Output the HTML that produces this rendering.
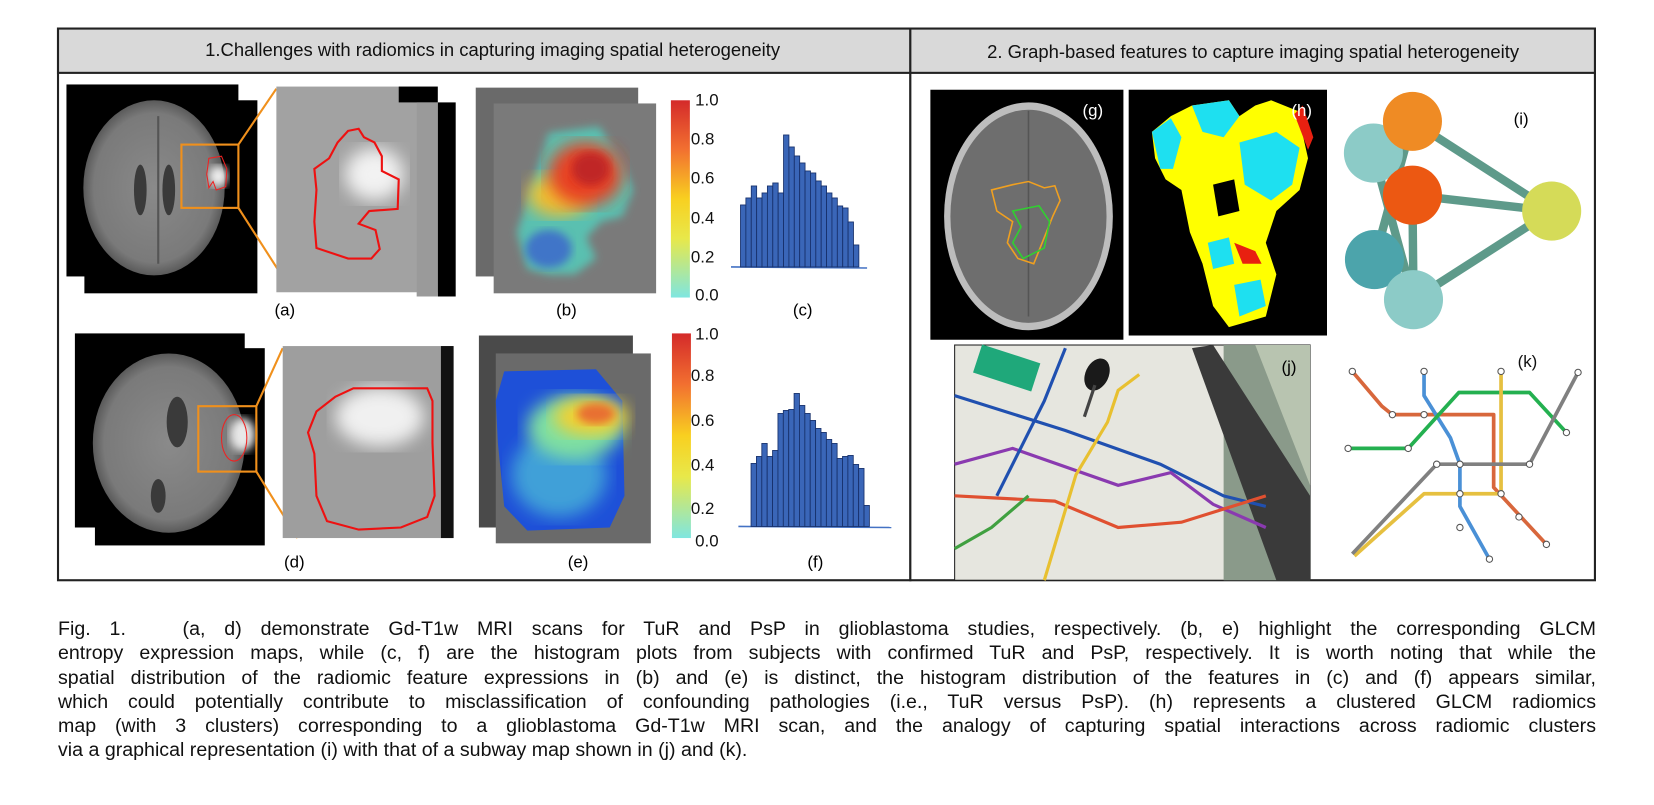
<!DOCTYPE html>
<html><head><meta charset="utf-8">
<style>
html,body{margin:0;padding:0;background:#fff;}
body{width:1654px;height:805px;position:relative;overflow:hidden;font-family:"Liberation Sans",sans-serif;}
#fig{position:absolute;left:0;top:0;}
#caption{position:absolute;left:58px;top:617px;width:1538px;font-size:19.6px;line-height:24.3px;color:#111;}
#caption div{text-align:justify;text-align-last:justify;white-space:nowrap;}
#caption div.last{text-align-last:left;}
</style></head>
<body>
<svg id="fig" width="1654" height="805" viewBox="0 0 1568 763" xmlns="http://www.w3.org/2000/svg" font-family="Liberation Sans, sans-serif">
<defs>
<filter id="blur4"><feGaussianBlur stdDeviation="4"/></filter>
<filter id="blur8"><feGaussianBlur stdDeviation="8"/></filter>
<radialGradient id="brainG" cx="50%" cy="50%" r="50%"><stop offset="0" stop-color="#8a8a8a"/><stop offset="0.85" stop-color="#7a7a7a"/><stop offset="1" stop-color="#5a5a5a"/></radialGradient>
<linearGradient id="cbar" x1="0" y1="1" x2="0" y2="0"><stop offset="0" stop-color="#7fe6e0"/><stop offset="0.3" stop-color="#e8e84a"/><stop offset="0.5" stop-color="#f8d020"/><stop offset="0.75" stop-color="#f27030"/><stop offset="1" stop-color="#d42a2a"/></linearGradient>
</defs>

<rect x="55" y="27" width="808" height="523" fill="#fff" stroke="#222" stroke-width="2"/>
<rect x="863" y="27" width="649" height="523" fill="#fff" stroke="#222" stroke-width="2"/>
<rect x="55" y="27" width="808" height="42" fill="#d9d9d9" stroke="#222" stroke-width="2"/>
<rect x="863" y="27" width="649" height="42" fill="#d9d9d9" stroke="#222" stroke-width="2"/>
<text x="467" y="53" font-size="17.5" text-anchor="middle" fill="#111">1.Challenges with radiomics in capturing imaging spatial heterogeneity</text>
<text x="1188" y="55" font-size="17.5" text-anchor="middle" fill="#111">2. Graph-based features to capture imaging spatial heterogeneity</text>

<g>
<rect x="63" y="80" width="163" height="182" fill="#000"/>
<rect x="80" y="95" width="164" height="183" fill="#000"/>
<ellipse cx="146" cy="178" rx="67" ry="83" fill="url(#brainG)"/>
<path d="M150 110 L150 250" stroke="#555" stroke-width="2"/>
<ellipse cx="133" cy="180" rx="6" ry="24" fill="#3a3a3a"/><ellipse cx="160" cy="180" rx="6" ry="24" fill="#3a3a3a"/>
<ellipse cx="207" cy="167" rx="9" ry="10" fill="#eee" filter="url(#blur4)"/>
<path d="M198 150 L210 148 L215 160 L214 177 L205 180 L202 172 L198 178 L196 165 Z" fill="none" stroke="#e22" stroke-width="1"/>
<rect x="172" y="137" width="54" height="60" fill="none" stroke="#f0901c" stroke-width="2"/>
</g>
<line x1="226" y1="137" x2="262" y2="84" stroke="#f0901c" stroke-width="2"/>
<line x1="226" y1="197" x2="276" y2="275" stroke="#f0901c" stroke-width="2"/>
<g>
<rect x="262" y="82" width="153" height="195" fill="#a2a2a2"/>
<rect x="378" y="82" width="37" height="15" fill="#000"/>
<rect x="415" y="97" width="17" height="184" fill="#000"/>
<rect x="395" y="97" width="20" height="184" fill="#9a9a9a"/>
<ellipse cx="355" cy="165" rx="28" ry="25" fill="#f2f2f2" filter="url(#blur8)"/>
<path d="M330 124 L340 122 L345 130 L355 135 L362 148 L362 162 L378 170 L377 198 L350 200 L340 212 L356 218 L360 236 L352 245 L330 245 L315 240 L300 235 L298 210 L300 180 L298 160 L312 150 L320 135 Z" fill="none" stroke="#e11" stroke-width="2"/>
</g>
<text x="270" y="299" font-size="16" text-anchor="middle">(a)</text>

<g>
<rect x="451" y="83" width="154" height="179" fill="#6a6a6a"/>
<rect x="468" y="98" width="154" height="180" fill="#7a7a7a"/>
<path d="M520 126 L568 120 L590 155 L600 180 L590 205 L570 210 L556 225 L565 245 L545 260 L520 260 L500 255 L490 220 L505 175 Z" fill="#5ac0b0" filter="url(#blur4)"/>
<ellipse cx="520" cy="236" rx="22" ry="18" fill="#3f74c8" filter="url(#blur4)"/>
<ellipse cx="530" cy="185" rx="30" ry="20" fill="#f0c030" filter="url(#blur8)"/>
<ellipse cx="555" cy="165" rx="35" ry="30" fill="#e84020" filter="url(#blur8)"/>
<ellipse cx="560" cy="160" rx="18" ry="16" fill="#c02828" filter="url(#blur4)"/>
</g>
<rect x="636" y="95" width="18" height="187" fill="url(#cbar)"/>
<g font-size="16" fill="#111">
<text x="659" y="100">1.0</text><text x="655" y="137">0.8</text><text x="655" y="174">0.6</text><text x="655" y="212">0.4</text><text x="655" y="249">0.2</text><text x="659" y="285">0.0</text>
</g>
<text x="537" y="299" font-size="16" text-anchor="middle">(b)</text>

<g id="histC"></g>
<text x="761" y="299" font-size="16" text-anchor="middle">(c)</text>

<g>
<rect x="71" y="316" width="161" height="184" fill="#000"/>
<rect x="90" y="330" width="161" height="187" fill="#000"/>
<ellipse cx="160" cy="420" rx="72" ry="85" fill="url(#brainG)"/>
<ellipse cx="168" cy="400" rx="10" ry="24" fill="#3a3a3a"/><ellipse cx="150" cy="470" rx="7" ry="16" fill="#3a3a3a"/>
<ellipse cx="230" cy="412" rx="12" ry="16" fill="#e8e8e8" filter="url(#blur4)"/>
<ellipse cx="222" cy="415" rx="12" ry="22" fill="none" stroke="#e22" stroke-width="1"/>
<rect x="188" y="385" width="55" height="62" fill="none" stroke="#f0901c" stroke-width="2"/>
</g>
<line x1="243" y1="385" x2="268" y2="330" stroke="#f0901c" stroke-width="2"/>
<line x1="243" y1="447" x2="282" y2="510" stroke="#f0901c" stroke-width="2"/>
<g>
<rect x="268" y="328" width="162" height="182" fill="#9e9e9e"/>
<rect x="418" y="328" width="12" height="182" fill="#111"/>
<ellipse cx="360" cy="395" rx="42" ry="28" fill="#f0f0f0" filter="url(#blur8)"/>
<path d="M318 376 L335 368 L405 368 L410 380 L410 420 L412 470 L405 490 L380 500 L340 502 L310 494 L300 470 L298 430 L292 410 L300 390 Z" fill="none" stroke="#e11" stroke-width="2"/>
</g>
<text x="279" y="538" font-size="16" text-anchor="middle">(d)</text>

<g>
<rect x="454" y="318" width="146" height="182" fill="#4a4a4a"/>
<rect x="470" y="335" width="147" height="180" fill="#6a6a6a"/>
<path d="M478 352 L565 350 L590 380 L592 470 L578 500 L500 503 L478 480 L472 420 L470 380 Z" fill="#1e50d8"/>
<ellipse cx="530" cy="450" rx="45" ry="40" fill="#40a0d8" filter="url(#blur8)"/>
<ellipse cx="545" cy="405" rx="45" ry="30" fill="#80e0a0" filter="url(#blur8)"/>
<ellipse cx="560" cy="395" rx="35" ry="18" fill="#f2d030" filter="url(#blur8)"/>
<ellipse cx="565" cy="392" rx="18" ry="10" fill="#e87030" filter="url(#blur4)"/>
</g>
<rect x="637" y="316" width="18" height="194" fill="url(#cbar)"/>
<g font-size="16" fill="#111">
<text x="659" y="322">1.0</text><text x="655" y="361">0.8</text><text x="655" y="404">0.6</text><text x="655" y="446">0.4</text><text x="655" y="487">0.2</text><text x="659" y="518">0.0</text>
</g>
<text x="548" y="538" font-size="16" text-anchor="middle">(e)</text>
<g id="histF"></g>
<text x="773" y="538" font-size="16" text-anchor="middle">(f)</text>

<g>
<rect x="882" y="85" width="183" height="237" fill="#000"/>
<ellipse cx="975" cy="205" rx="80" ry="108" fill="#bdbdbd"/>
<ellipse cx="975" cy="205" rx="74" ry="101" fill="#6e6e6e"/>
<path d="M975 105 L975 300" stroke="#555" stroke-width="1.5"/>
<path d="M940 180 L960 175 L975 172 L990 178 L1000 176 L1005 190 L998 205 L990 225 L980 250 L965 245 L955 230 L960 210 L945 200 Z" fill="none" stroke="#f0a020" stroke-width="1.5"/>
<path d="M960 200 L985 195 L995 210 L990 235 L970 245 L960 230 L968 215 Z" fill="none" stroke="#30d030" stroke-width="1.5"/>
<text x="1036" y="110" font-size="16" fill="#fff" text-anchor="middle">(g)</text>
</g>
<g>
<rect x="1070" y="85" width="188" height="233" fill="#000"/>
<path d="M1092 125 L1110 110 L1130 100 L1165 95 L1175 110 L1190 100 L1205 95 L1230 105 L1240 150 L1232 180 L1210 200 L1200 230 L1210 260 L1200 300 L1165 310 L1150 290 L1140 250 L1128 220 L1120 180 L1105 170 L1095 150 Z" fill="#ffff00"/>
<path d="M1092 125 L1110 112 L1120 130 L1112 160 L1100 160 Z" fill="#1ee0f0"/>
<path d="M1130 100 L1165 95 L1175 110 L1160 130 L1140 125 Z" fill="#1ee0f0"/>
<path d="M1175 135 L1210 125 L1232 140 L1225 175 L1205 190 L1180 175 Z" fill="#1ee0f0"/>
<path d="M1145 230 L1165 225 L1170 250 L1150 255 Z" fill="#1ee0f0"/>
<path d="M1170 270 L1195 265 L1200 290 L1175 300 Z" fill="#1ee0f0"/>
<path d="M1150 175 L1170 170 L1175 200 L1155 205 Z" fill="#000"/>
<path d="M1227 108 L1235 100 L1245 130 L1240 142 Z" fill="#e82010"/>
<path d="M1170 230 L1190 238 L1196 250 L1178 250 Z" fill="#e82010"/>
<text x="1234" y="110" font-size="16" fill="#fff" text-anchor="middle">(h)</text>
</g>

<g id="graphI">
<g stroke="#5e9a8a" stroke-width="8" stroke-linecap="round">
<line x1="1302" y1="145" x2="1339" y2="115"/><line x1="1302" y1="145" x2="1339" y2="185"/><line x1="1302" y1="145" x2="1340" y2="284"/>
<line x1="1339" y1="115" x2="1303" y2="246"/><line x1="1339" y1="115" x2="1471" y2="200"/>
<line x1="1339" y1="185" x2="1471" y2="200"/><line x1="1339" y1="185" x2="1340" y2="284"/>
<line x1="1303" y1="246" x2="1340" y2="284"/><line x1="1471" y1="200" x2="1340" y2="284"/>
</g>
<circle cx="1302" cy="145" r="28" fill="#8ccbc7"/>
<circle cx="1339" cy="115" r="28" fill="#ef8b24"/>
<circle cx="1339" cy="185" r="28" fill="#ec5812"/>
<circle cx="1471" cy="200" r="28" fill="#d5db58"/>
<circle cx="1303" cy="246" r="28" fill="#4ca4ab"/>
<circle cx="1340" cy="284" r="28" fill="#8ccbc7"/>
<text x="1442" y="118" font-size="16" text-anchor="middle">(i)</text>
</g>

<g>
<rect x="905" y="327" width="337" height="223" fill="#e6e6df" stroke="#222" stroke-width="1"/>
<rect x="1160" y="327" width="82" height="223" fill="#8a9a8a"/>
<path d="M1150 327 L1242 470 L1242 550 L1210 550 L1130 330 Z" fill="#3a3a3a"/>
<path d="M1190 327 L1242 327 L1242 460 Z" fill="#b8c4b0"/>
<rect x="925" y="335" width="58" height="28" fill="#1fa87a" transform="rotate(18 955 350)"/>
<g fill="none" stroke-width="3">
<polyline points="905,375 1010,408 1100,440 1160,470 1200,480" stroke="#2050b0"/>
<polyline points="905,440 960,425 1060,460 1110,448 1150,478 1200,500" stroke="#8a3ab0"/>
<polyline points="905,470 1000,475 1060,500 1120,495 1200,470" stroke="#e05030"/>
<polyline points="1080,355 1060,370 1050,400 1020,450 990,550" stroke="#e8c030"/>
<polyline points="1010,330 990,380 960,440 945,470" stroke="#2050b0"/>
<polyline points="905,520 940,500 975,470" stroke="#40a040"/>
</g>
<ellipse cx="1040" cy="355" rx="11" ry="16" fill="#1a1a1a" transform="rotate(25 1040 355)"/>
<line x1="1038" y1="365" x2="1028" y2="395" stroke="#444" stroke-width="3"/>
<text x="1222" y="353" font-size="16" text-anchor="middle">(j)</text>
</g>

<g fill="none" stroke-width="3.5" stroke-linejoin="round">
<polyline points="1282,352 1310,385 1320,393 1416,393 1416,462 1466,516" stroke="#d8673c"/>
<polyline points="1350,352 1350,375 1375,415 1384,440 1384,480 1412,530" stroke="#4a90d6"/>
<polyline points="1278,425 1335,425 1383,372 1450,372 1485,410" stroke="#24b050"/>
<polyline points="1423,352 1423,468 1350,468 1284,527" stroke="#e6c040"/>
<polyline points="1496,353 1450,440 1362,440 1282,525" stroke="#808080"/>
<g fill="#fff" stroke="#555" stroke-width="1">
<circle cx="1282" cy="352" r="3"/><circle cx="1350" cy="352" r="3"/><circle cx="1423" cy="352" r="3"/><circle cx="1496" cy="353" r="3"/>
<circle cx="1485" cy="410" r="3"/><circle cx="1278" cy="425" r="3"/><circle cx="1466" cy="516" r="3"/><circle cx="1412" cy="530" r="3"/>
<circle cx="1320" cy="393" r="3"/><circle cx="1350" cy="393" r="3"/><circle cx="1335" cy="425" r="3"/><circle cx="1362" cy="440" r="3"/><circle cx="1384" cy="440" r="3"/><circle cx="1450" cy="440" r="3"/><circle cx="1384" cy="468" r="3"/><circle cx="1423" cy="468" r="3"/><circle cx="1384" cy="500" r="3"/><circle cx="1440" cy="490" r="3"/>
</g>
<text x="1448" y="348" font-size="16" fill="#111" stroke="none" text-anchor="middle">(k)</text>
</g>
</svg>

<div id="caption">
<div>Fig. 1.&nbsp;&nbsp; (a, d) demonstrate Gd-T1w MRI scans for TuR and PsP in glioblastoma studies, respectively. (b, e) highlight the corresponding GLCM</div>
<div>entropy expression maps, while (c, f) are the histogram plots from subjects with confirmed TuR and PsP, respectively. It is worth noting that while the</div>
<div>spatial distribution of the radiomic feature expressions in (b) and (e) is distinct, the histogram distribution of the features in (c) and (f) appears similar,</div>
<div>which could potentially contribute to misclassification of confounding pathologies (i.e., TuR versus PsP). (h) represents a clustered GLCM radiomics</div>
<div>map (with 3 clusters) corresponding to a glioblastoma Gd-T1w MRI scan, and the analogy of capturing spatial interactions across radiomic clusters</div>
<div class="last">via a graphical representation (i) with that of a subway map shown in (j) and (k).</div>
</div>

<script>
const histCBins = [1,2,3,4,5,6,7,8,9,10,11,12,13,14,15,16,17,18,19,20,21,22];
const histCValues = [62,69,81,69,74,81,84,74,132,120,111,104,96,94,86,81,74,69,61,59,45,22];
const histFBins = [1,2,3,4,5,6,7,8,9,10,11,12,13,14,15,16,17,18,19,20,21,22];
const histFValues = [63,70,83,70,76,113,116,117,133,121,113,106,98,94,87,83,68,70,71,62,58,21];
const NS = 'http://www.w3.org/2000/svg';
function drawHist(gid, bins, vals, x0, base, bw, scale, lineX0, lineX1) {
  const g = document.getElementById(gid);
  const xs = i => x0 + i * bw;
  const ys = v => v * scale / 1.055;
  const ln = document.createElementNS(NS, 'line');
  ln.setAttribute('x1', lineX0); ln.setAttribute('x2', lineX1);
  ln.setAttribute('y1', base); ln.setAttribute('y2', base + 1);
  ln.setAttribute('stroke', '#4472c4'); ln.setAttribute('stroke-width', '1.5');
  
  
  g.appendChild(ln);
  bins.forEach((b, i) => {
    const h = ys(vals[i]);
    const r = document.createElementNS(NS, 'rect');
    r.setAttribute('x', xs(i)); r.setAttribute('y', base - h);
    r.setAttribute('width', bw); r.setAttribute('height', h);
    r.setAttribute('fill', '#3a66b8'); r.setAttribute('stroke', '#17306a'); r.setAttribute('stroke-width', '0.8');
    
    
    g.appendChild(r);
  });
}
drawHist('histC', histCBins, histCValues, 702, 253, 5.1, 1, 693, 822);
drawHist('histF', histFBins, histFValues, 712, 499, 5.1, 1, 700, 845);
</script>
</body></html>
